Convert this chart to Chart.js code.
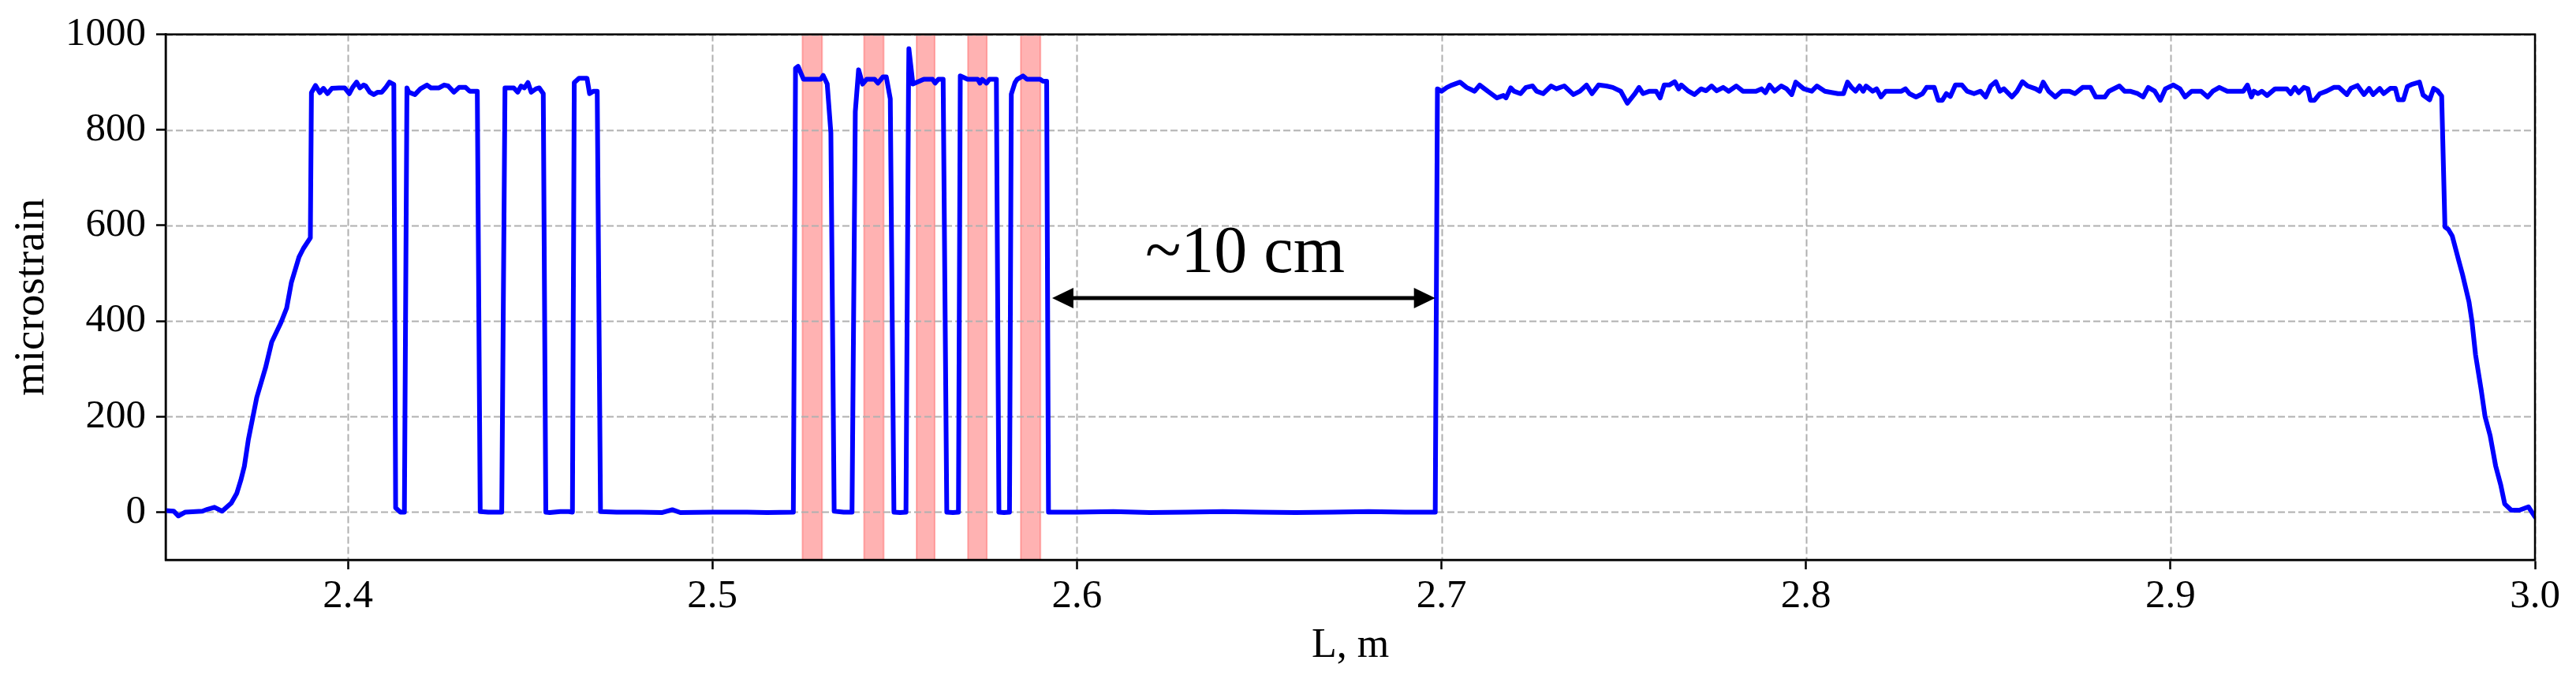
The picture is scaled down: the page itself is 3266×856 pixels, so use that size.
<!DOCTYPE html>
<html>
<head>
<meta charset="utf-8">
<script src="https://cdn.jsdelivr.net/npm/chart.js@4/dist/chart.umd.min.js"></script>
<style>
  html, body { margin: 0; padding: 0; background: #fff; }
  canvas { display: block; }
</style>
</head>
<body>
<canvas id="strainChart" width="3266" height="856"></canvas>
<script>
// axis ticks
const xTicks = [2.4, 2.5, 2.6, 2.7, 2.8, 2.9, 3.0];
const yTicks = [0, 200, 400, 600, 800, 1000];

// strain trace (L in m, microstrain)
const rampX = [2.3500, 2.3522, 2.3535, 2.3554, 2.3601, 2.3615, 2.3634, 2.3655, 2.3680, 2.3695,
               2.3706, 2.3716, 2.3727, 2.3750, 2.3774, 2.3791, 2.3816, 2.3832, 2.3845, 2.3866,
               2.3878, 2.3897];
const rampY = [3, 2, -8, 0, 2, 6, 10, 2, 19, 39,
               66, 96, 152, 240, 302, 356, 396, 427, 481, 534,
               552, 574];

const pulsesX = [2.3900, 2.3911, 2.3923, 2.3933, 2.3944, 2.3956, 2.3976, 2.3991, 2.4004, 2.4013,
                 2.4024, 2.4033, 2.4043, 2.4049, 2.4060, 2.4071, 2.4082, 2.4093, 2.4104, 2.4114,
                 2.4126, 2.4131, 2.4144, 2.4155, 2.4162, 2.4167, 2.4184, 2.4199, 2.4217, 2.4228,
                 2.4250, 2.4264, 2.4275, 2.4291, 2.4305, 2.4323, 2.4334, 2.4355, 2.4363, 2.4385,
                 2.4422, 2.4431, 2.4455, 2.4466, 2.4475, 2.4484, 2.4494, 2.4503, 2.4516, 2.4525,
                 2.4536, 2.4543, 2.4554, 2.4583, 2.4606, 2.4616, 2.4621, 2.4634, 2.4656, 2.4663,
                 2.4674, 2.4684];
const pulsesY = [878, 893, 878, 887, 876, 887, 888, 888, 876, 889,
                 900, 888, 894, 892, 879, 874, 879, 879, 889, 900,
                 895, 9, 0, 0, 888, 879, 874, 886, 894, 888,
                 888, 894, 892, 879, 889, 889, 881, 881, 1, 0,
                 0, 888, 888, 879, 892, 888, 899, 879, 886, 888,
                 876, 0, -1, 1, 1, 0, 899, 908, 908, 876,
                 881, 881];

const zeroAX = [2.4693, 2.4737, 2.4800, 2.4861, 2.4890, 2.4912, 2.5000, 2.5095, 2.5150];
const zeroAY = [1, 0, 0, -1, 5, -1, 0, 0, -1];

const markedX = [2.5222, 2.5228, 2.5235, 2.5250, 2.5297, 2.5304, 2.5315, 2.5325, 2.5334, 2.5360,
                 2.5383, 2.5392, 2.5401, 2.5412, 2.5423, 2.5445, 2.5454, 2.5468, 2.5477, 2.5488,
                 2.5498, 2.5515, 2.5531, 2.5538, 2.5539, 2.5550, 2.5580, 2.5604, 2.5611, 2.5620,
                 2.5633, 2.5643, 2.5660, 2.5675, 2.5680, 2.5700, 2.5728, 2.5734, 2.5740, 2.5752,
                 2.5760, 2.5779, 2.5786, 2.5800, 2.5815, 2.5820, 2.5830, 2.5836, 2.5852, 2.5863,
                 2.5899, 2.5907, 2.5917];
const markedY = [0, 929, 933, 906, 906, 914, 896, 794, 2, 0,
                 0, 838, 926, 896, 906, 906, 898, 911, 911, 865,
                 0, -1, 0, 892, 970, 896, 906, 906, 898, 906,
                 906, 0, -1, 0, 913, 906, 906, 898, 906, 898,
                 906, 906, 0, -1, 0, 875, 899, 906, 913, 906,
                 906, 902, 902];

const zeroBX = [2.5922, 2.6000, 2.6100, 2.6200, 2.6300, 2.6400, 2.6500, 2.6600, 2.6700, 2.6800,
                2.6900, 2.6983];
const zeroBY = [0, 0, 1, -1, 0, 1, 0, -1, 0, 1,
                0, 0];

const plateauX = [2.6989, 2.7000, 2.7015, 2.7029, 2.7051, 2.7069, 2.7091, 2.7105, 2.7127, 2.7152,
                  2.7170, 2.7177, 2.7190, 2.7199, 2.7217, 2.7232, 2.7250, 2.7261, 2.7279, 2.7301,
                  2.7315, 2.7337, 2.7362, 2.7380, 2.7398, 2.7413, 2.7431, 2.7452, 2.7470, 2.7492,
                  2.7510, 2.7531, 2.7542, 2.7553, 2.7571, 2.7589, 2.7600, 2.7611, 2.7625, 2.7640,
                  2.7651, 2.7658, 2.7676, 2.7694, 2.7712, 2.7726, 2.7741, 2.7755, 2.7773, 2.7788,
                  2.7809, 2.7827, 2.7863, 2.7878, 2.7889, 2.7900, 2.7914, 2.7932, 2.7947, 2.7961,
                  2.7972, 2.7994, 2.8016, 2.8030, 2.8052, 2.8088, 2.8103, 2.8114, 2.8125, 2.8136,
                  2.8147, 2.8157, 2.8165, 2.8183, 2.8194, 2.8206, 2.8219, 2.8262, 2.8273, 2.8284,
                  2.8302, 2.8320, 2.8331, 2.8352, 2.8363, 2.8374, 2.8385, 2.8396, 2.8410, 2.8428,
                  2.8442, 2.8461, 2.8479, 2.8493, 2.8507, 2.8521, 2.8532, 2.8543, 2.8565, 2.8579,
                  2.8594, 2.8608, 2.8630, 2.8641, 2.8651, 2.8666, 2.8684, 2.8702, 2.8723, 2.8738,
                  2.8759, 2.8781, 2.8795, 2.8820, 2.8831, 2.8860, 2.8874, 2.8889, 2.8910, 2.8925,
                  2.8939, 2.8957, 2.8972, 2.8986, 2.9008, 2.9026, 2.9040, 2.9058, 2.9084, 2.9102,
                  2.9116, 2.9134, 2.9156, 2.9200, 2.9211, 2.9222, 2.9229, 2.9240, 2.9251, 2.9265,
                  2.9287, 2.9319, 2.9330, 2.9341, 2.9352, 2.9366, 2.9377, 2.9384, 2.9395, 2.9410,
                  2.9428, 2.9448, 2.9462, 2.9484, 2.9495, 2.9513, 2.9531, 2.9545, 2.9556, 2.9574,
                  2.9585, 2.9603, 2.9617, 2.9625, 2.9639, 2.9650, 2.9661, 2.9683, 2.9693, 2.9711,
                  2.9722, 2.9733, 2.9744];
const plateauY = [886, 881, 889, 894, 900, 889, 881, 894, 881, 867,
                  872, 867, 888, 881, 876, 889, 892, 881, 876, 892,
                  886, 892, 874, 881, 894, 876, 894, 892, 889, 881,
                  856, 876, 889, 876, 881, 881, 867, 894, 894, 901,
                  886, 894, 882, 874, 886, 882, 892, 882, 889, 881,
                  892, 881, 881, 886, 878, 894, 881, 892, 886, 874,
                  900, 886, 881, 892, 881, 876, 876, 900, 889, 881,
                  892, 881, 892, 881, 886, 869, 881, 881, 886, 876,
                  869, 876, 889, 889, 862, 862, 876, 870, 894, 894,
                  881, 876, 881, 869, 892, 901, 881, 886, 869, 881,
                  901, 892, 886, 881, 900, 881, 869, 881, 881, 876,
                  889, 889, 869, 869, 881, 892, 881, 881, 876, 869,
                  889, 881, 862, 886, 894, 886, 869, 881, 881, 869,
                  881, 889, 881, 881, 894, 869, 881, 876, 881, 872,
                  886, 886, 876, 889, 878, 889, 886, 862, 862, 876,
                  881, 889, 889, 874, 887, 893, 874, 887, 874, 887,
                  876, 887, 887, 863, 863, 891, 895, 900, 873, 863,
                  887, 882, 871];

const fallX = [2.9753, 2.9762, 2.9773, 2.9791, 2.9801, 2.9819, 2.9827, 2.9837, 2.9852, 2.9863,
               2.9877, 2.9892, 2.9906, 2.9917, 2.9935, 2.9957, 2.9982, 3.0000];
const fallY = [597, 592, 578, 526, 498, 440, 400, 329, 258, 200,
               160, 97, 57, 17, 4, 4, 11, -10];

// highlighted zones (red spans)
const bandStart = [2.5247, 2.5416, 2.5560, 2.5701, 2.5846];
const bandEnd = [2.5301, 2.5470, 2.5610, 2.5753, 2.5900];

// "~10 cm" gap annotation
const gapFrom = 2.5932;
const gapTo = 2.6983;
const gapLevel = 448;
const gapLabel = "~10 cm";
const gapLabelX = 2.6461;
const gapLabelLevel = 502;

const allX = [].concat(rampX, pulsesX, zeroAX, markedX, zeroBX, plateauX, fallX);
const allY = [].concat(rampY, pulsesY, zeroAY, markedY, zeroBY, plateauY, fallY);
const points = allX.map((x, i) => ({ x: x, y: allY[i] }));

const serif = "'Liberation Serif', 'DejaVu Serif', serif";

// red spans + dashed grid under the trace
const underlayPlugin = {
  id: "underlay",
  beforeDatasetsDraw(chart) {
    const ctx = chart.ctx;
    const area = chart.chartArea;
    const xs = chart.scales.x;
    const ys = chart.scales.y;
    ctx.save();

    for (let i = 0; i < bandStart.length; i++) {
      const x0 = xs.getPixelForValue(bandStart[i]);
      const x1 = xs.getPixelForValue(bandEnd[i]);
      ctx.fillStyle = "rgba(255,0,0,0.3)";
      ctx.fillRect(x0, area.top, x1 - x0, area.bottom - area.top);
      ctx.strokeStyle = "rgba(255,0,0,0.25)";
      ctx.lineWidth = 2;
      ctx.strokeRect(x0, area.top, x1 - x0, area.bottom - area.top);
    }

    ctx.strokeStyle = "#b0b0b0";
    ctx.lineWidth = 2;
    ctx.setLineDash([9, 4]);
    xTicks.forEach(v => {
      const px = Math.round(xs.getPixelForValue(v)) + 0.5;
      ctx.beginPath();
      ctx.moveTo(px, area.top);
      ctx.lineTo(px, area.bottom);
      ctx.stroke();
    });
    yTicks.forEach(v => {
      const py = Math.round(ys.getPixelForValue(v)) + 0.5;
      ctx.beginPath();
      ctx.moveTo(area.left, py);
      ctx.lineTo(area.right, py);
      ctx.stroke();
    });
    ctx.restore();
  }
};

// arrow, label and the box round the plot
const overlayPlugin = {
  id: "overlay",
  afterDatasetsDraw(chart) {
    const ctx = chart.ctx;
    const xs = chart.scales.x;
    const ys = chart.scales.y;
    const x1 = xs.getPixelForValue(gapFrom);
    const x2 = xs.getPixelForValue(gapTo);
    const y = ys.getPixelForValue(gapLevel);
    const head = 27;
    const half = 13;

    ctx.save();
    ctx.strokeStyle = "#000";
    ctx.fillStyle = "#000";
    ctx.lineWidth = 5;
    ctx.beginPath();
    ctx.moveTo(x1 + head - 4, y);
    ctx.lineTo(x2 - head + 4, y);
    ctx.stroke();

    ctx.beginPath();
    ctx.moveTo(x1, y);
    ctx.lineTo(x1 + head, y - half);
    ctx.lineTo(x1 + head, y + half);
    ctx.closePath();
    ctx.fill();

    ctx.beginPath();
    ctx.moveTo(x2, y);
    ctx.lineTo(x2 - head, y - half);
    ctx.lineTo(x2 - head, y + half);
    ctx.closePath();
    ctx.fill();

    ctx.font = "84px " + serif;
    ctx.textAlign = "center";
    ctx.textBaseline = "alphabetic";
    ctx.fillText(gapLabel, xs.getPixelForValue(gapLabelX), ys.getPixelForValue(gapLabelLevel));
    ctx.restore();
  },
  afterDraw(chart) {
    const ctx = chart.ctx;
    const a = chart.chartArea;
    ctx.save();
    ctx.strokeStyle = "#000";
    ctx.lineWidth = 2.5;
    ctx.strokeRect(a.left, a.top, a.right - a.left, a.bottom - a.top);
    ctx.restore();
  }
};

new Chart(document.getElementById("strainChart"), {
  type: "line",
  data: {
    datasets: [{
      data: points,
      borderColor: "#0000ff",
      borderWidth: 6,
      borderJoinStyle: "round",
      borderCapStyle: "round",
      pointRadius: 0,
      tension: 0,
      fill: false
    }]
  },
  options: {
    responsive: false,
    animation: false,
    devicePixelRatio: 1,
    layout: { padding: { left: 0, top: 37, right: 52, bottom: 0 } },
    plugins: {
      legend: { display: false },
      tooltip: { enabled: false }
    },
    scales: {
      x: {
        type: "linear",
        min: 2.35,
        max: 3.0,
        afterBuildTicks: s => { s.ticks = xTicks.map(v => ({ value: v })); },
        afterFit: s => { s.height = 146; },
        grid: {
          drawOnChartArea: false,
          drawTicks: true,
          tickLength: 12,
          tickWidth: 2.5,
          tickColor: "#000",
          tickBorderDash: []
        },
        border: { display: true, color: "#000", width: 2.5 },
        ticks: {
          color: "#000",
          font: { family: serif, size: 51 },
          padding: 4,
          maxRotation: 0,
          callback: v => v.toFixed(1)
        },
        title: {
          display: true,
          text: "L, m",
          color: "#000",
          font: { family: serif, size: 52 },
          padding: { top: 0, bottom: 5 }
        }
      },
      y: {
        type: "linear",
        min: -100,
        max: 1000,
        afterBuildTicks: s => { s.ticks = yTicks.map(v => ({ value: v })); },
        afterFit: s => { s.width = 210; },
        grid: {
          drawOnChartArea: false,
          drawTicks: true,
          tickLength: 12,
          tickWidth: 2.5,
          tickColor: "#000",
          tickBorderDash: []
        },
        border: { display: true, color: "#000", width: 2.5 },
        ticks: {
          color: "#000",
          font: { family: serif, size: 51 },
          padding: 13,
          callback: v => String(v)
        },
        title: {
          display: true,
          text: "microstrain",
          color: "#000",
          font: { family: serif, size: 55 },
          padding: { top: 8, bottom: 0 }
        }
      }
    }
  },
  plugins: [underlayPlugin, overlayPlugin]
});
</script>
</body>
</html>
